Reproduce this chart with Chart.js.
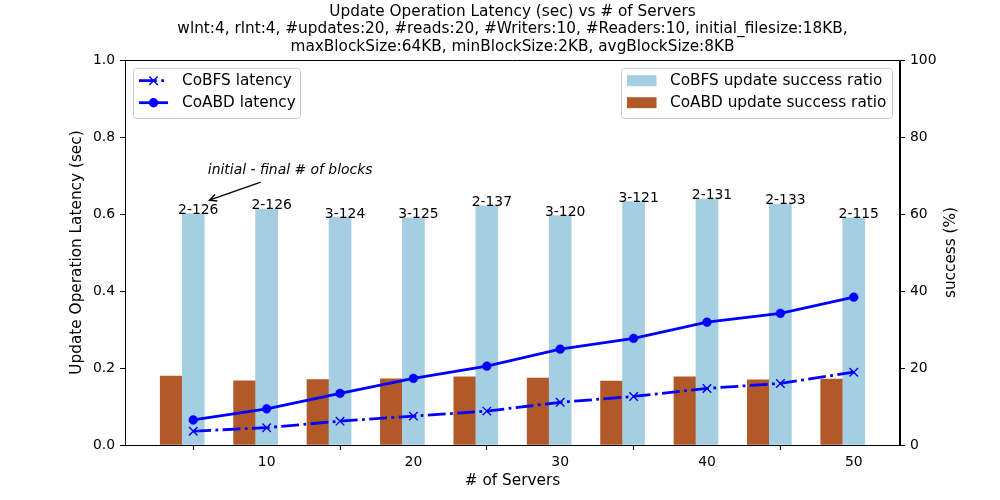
<!DOCTYPE html>
<html>
<head>
<meta charset="utf-8">
<script src="https://cdn.jsdelivr.net/npm/chart.js@4.4.1/dist/chart.umd.min.js"></script>
<style>
  html, body { margin: 0; padding: 0; background: #fff; }
  #wrap { width: 1000px; height: 500px; position: relative; }
</style>
</head>
<body>
<div id="wrap"><canvas id="c"></canvas></div>
<script>
// ---- data ----
const servers = [5, 10, 15, 20, 25, 30, 35, 40, 45, 50];
const coBFSLatency = [0.036, 0.045, 0.062, 0.075, 0.088, 0.111, 0.126, 0.147, 0.160, 0.189];
const coABDLatency = [0.065, 0.094, 0.134, 0.173, 0.205, 0.249, 0.277, 0.319, 0.342, 0.384];
const coBFSSuccess = [60.1, 61.3, 59.2, 59.0, 62.1, 59.6, 63.2, 63.9, 62.6, 59.0];
const coABDSuccess = [17.9, 16.7, 17.0, 17.2, 17.7, 17.4, 16.6, 17.7, 16.9, 17.1];
const blockLabels = ["2-126", "2-126", "3-124", "3-125", "2-137", "3-120", "3-121", "2-131", "2-133", "2-115"];
const xTicks = [10, 20, 30, 40, 50];
const yTicks = [0, 0.2, 0.4, 0.6, 0.8, 1.0];
const y1Ticks = [0, 20, 40, 60, 80, 100];
const barWidth = 1.5;
const titleLines = [
  "Update Operation Latency (sec) vs # of Servers",
  "wlnt:4, rlnt:4, #updates:20, #reads:20, #Writers:10, #Readers:10, initial_filesize:18KB,",
  "maxBlockSize:64KB, minBlockSize:2KB, avgBlockSize:8KB"
];
const annotationText = "initial - final # of blocks";
// annotation placement in data units: text centre, arrow tail, arrow tip
const annotationTextPos = { x: 11.6, y: 0.713 };
const annotationTail = { x: 9.6, y: 0.683 };
const annotationTip = { x: 6.1, y: 0.636 };

const BLUE = '#0000ff';
const LIGHTBLUE = '#a6cee3';
const BROWN = '#b15928';
const FONT = '"DejaVu Sans", sans-serif';
const FS = 13.9;      // ticks, bar labels, annotation
const FSL = 15.3;     // title, legend, axis titles
const LW = 2.78;
const DASHDOT = [17.8, 4.4, 2.8, 4.4];

function fixAxis(axis, values) { axis.ticks = values.map(v => ({ value: v })); }

const decorPlugin = {
  id: 'decor',
  afterDatasetsDraw(chart) {
    const ctx = chart.ctx;
    const ca = chart.chartArea;
    const xs = chart.scales.x, ys = chart.scales.y;
    ctx.save();
    // frame (top spine)
    ctx.strokeStyle = '#000';
    ctx.lineWidth = 1;
    ctx.beginPath();
    ctx.rect(ca.left + 0.5, ca.top + 0.5, ca.right - ca.left - 1, ca.bottom - ca.top);
    ctx.stroke();

    // labels above CoBFS bars
    const meta = chart.getDatasetMeta(2);
    ctx.fillStyle = '#000';
    ctx.font = FS + 'px ' + FONT;
    ctx.textAlign = 'center';
    ctx.textBaseline = 'alphabetic';
    meta.data.forEach((el, i) => {
      ctx.fillText(blockLabels[i], el.x + 5, el.y + 0.5);
    });

    // annotation
    ctx.font = 'italic ' + FS + 'px ' + FONT;
    ctx.textBaseline = 'middle';
    ctx.fillText(annotationText, xs.getPixelForValue(annotationTextPos.x), ys.getPixelForValue(annotationTextPos.y));
    const tx = xs.getPixelForValue(annotationTail.x), ty = ys.getPixelForValue(annotationTail.y);
    const hx = xs.getPixelForValue(annotationTip.x), hy = ys.getPixelForValue(annotationTip.y);
    ctx.strokeStyle = '#000';
    ctx.lineWidth = 1.4;
    ctx.beginPath();
    ctx.moveTo(tx, ty); ctx.lineTo(hx, hy);
    const ang = Math.atan2(hy - ty, hx - tx);
    const hl = 8, hw = 0.45;
    ctx.moveTo(hx - hl * Math.cos(ang - hw), hy - hl * Math.sin(ang - hw));
    ctx.lineTo(hx, hy);
    ctx.lineTo(hx - hl * Math.cos(ang + hw), hy - hl * Math.sin(ang + hw));
    ctx.stroke();

    // legends
    function box(x, y, w, h) {
      const r = 3;
      ctx.beginPath();
      ctx.moveTo(x + r, y);
      ctx.lineTo(x + w - r, y); ctx.quadraticCurveTo(x + w, y, x + w, y + r);
      ctx.lineTo(x + w, y + h - r); ctx.quadraticCurveTo(x + w, y + h, x + w - r, y + h);
      ctx.lineTo(x + r, y + h); ctx.quadraticCurveTo(x, y + h, x, y + h - r);
      ctx.lineTo(x, y + r); ctx.quadraticCurveTo(x, y, x + r, y);
      ctx.closePath();
      ctx.fillStyle = 'rgba(255,255,255,0.8)';
      ctx.fill();
      ctx.strokeStyle = '#cccccc';
      ctx.lineWidth = 1;
      ctx.stroke();
    }
    const L = ca.left;
    const T = ca.top;
    // left legend
    box(L + 8.5, T + 8.5, 167, 50);
    const rows = [T + 20.7, T + 42.7];
    const hx0 = L + 14, hx1 = L + 43, hmid = (hx0 + hx1) / 2;
    ctx.strokeStyle = BLUE; ctx.lineWidth = LW;
    ctx.setLineDash(DASHDOT);
    ctx.beginPath(); ctx.moveTo(hx0, rows[0]); ctx.lineTo(hx1, rows[0]); ctx.stroke();
    ctx.setLineDash([]);
    ctx.lineWidth = 1.4;
    const cr = 4.2;
    ctx.beginPath();
    ctx.moveTo(hmid - cr, rows[0] - cr); ctx.lineTo(hmid + cr, rows[0] + cr);
    ctx.moveTo(hmid - cr, rows[0] + cr); ctx.lineTo(hmid + cr, rows[0] - cr);
    ctx.stroke();
    ctx.lineWidth = LW;
    ctx.beginPath(); ctx.moveTo(hx0, rows[1]); ctx.lineTo(hx1, rows[1]); ctx.stroke();
    ctx.fillStyle = BLUE;
    ctx.beginPath(); ctx.arc(hmid, rows[1], 4.7, 0, Math.PI * 2); ctx.fill();
    ctx.fillStyle = '#000';
    ctx.font = FSL + 'px ' + FONT;
    ctx.textAlign = 'left';
    ctx.textBaseline = 'middle';
    ctx.fillText(chart.data.datasets[0].label, L + 57, rows[0]);
    ctx.fillText(chart.data.datasets[1].label, L + 57, rows[1]);

    // right legend
    const R = ca.right;
    box(R - 278.5, T + 8.5, 271, 50);
    ctx.fillStyle = LIGHTBLUE;
    ctx.fillRect(R - 273, rows[0] - 5.5, 29.5, 11);
    ctx.fillStyle = BROWN;
    ctx.fillRect(R - 273, rows[1] - 5.5, 29.5, 11);
    ctx.fillStyle = '#000';
    ctx.fillText(chart.data.datasets[2].label, R - 230, rows[0]);
    ctx.fillText(chart.data.datasets[3].label, R - 230, rows[1]);

    // titles
    ctx.textAlign = 'center';
    ctx.textBaseline = 'alphabetic';
    const cx = (ca.left + ca.right) / 2;
    titleLines.forEach((t, i) => ctx.fillText(t, cx, 15.5 + i * 17.5));

    // axis titles
    ctx.textBaseline = 'middle';
    ctx.fillText('# of Servers', cx, 481.5);
    const cy = (ca.top + ca.bottom) / 2;
    ctx.save();
    ctx.translate(77, cy); ctx.rotate(-Math.PI / 2);
    ctx.fillText('Update Operation Latency (sec)', 0, 0);
    ctx.restore();
    ctx.save();
    ctx.translate(951, cy); ctx.rotate(-Math.PI / 2);
    ctx.fillText('success (%)', 0, 0);
    ctx.restore();
    ctx.restore();
  }
};

const tickFont = { family: FONT, size: FS };

new Chart(document.getElementById('c'), {
  data: {
    datasets: [
      {
        type: 'line', label: 'CoBFS latency', yAxisID: 'y', order: 0,
        data: servers.map((s, i) => ({ x: s, y: coBFSLatency[i] })),
        borderColor: BLUE, backgroundColor: BLUE, borderWidth: LW, borderDash: DASHDOT,
        pointStyle: 'crossRot', pointRadius: 6, pointBorderWidth: 1.4, pointBorderColor: BLUE,
        fill: false, tension: 0
      },
      {
        type: 'line', label: 'CoABD latency', yAxisID: 'y', order: 0,
        data: servers.map((s, i) => ({ x: s, y: coABDLatency[i] })),
        borderColor: BLUE, backgroundColor: BLUE, borderWidth: LW,
        pointStyle: 'circle', pointRadius: 4.4, pointBorderWidth: 0.5, pointBorderColor: BLUE,
        fill: false, tension: 0
      },
      {
        type: 'bar', label: 'CoBFS update success ratio', yAxisID: 'y1', order: 1,
        data: servers.map((s, i) => ({ x: s, y: coBFSSuccess[i] })),
        backgroundColor: LIGHTBLUE, borderWidth: 0,
        grouped: false, barPercentage: 1, categoryPercentage: 1
      },
      {
        type: 'bar', label: 'CoABD update success ratio', yAxisID: 'y1', order: 1,
        data: servers.map((s, i) => ({ x: s - barWidth, y: coABDSuccess[i] })),
        backgroundColor: BROWN, borderWidth: 0,
        grouped: false, barPercentage: 1, categoryPercentage: 1
      }
    ]
  },
  options: {
    responsive: true,
    maintainAspectRatio: false,
    animation: false,
    devicePixelRatio: 1,
    layout: { padding: { top: 60, left: 0, right: 0, bottom: 0 } },
    plugins: { legend: { display: false }, title: { display: false }, tooltip: { enabled: false } },
    scales: {
      x: {
        type: 'linear', position: 'bottom', min: 0.35, max: 53.15, offset: false,
        grid: { display: true, drawOnChartArea: false, drawTicks: true, tickLength: 5, color: '#000', lineWidth: 1 },
        border: { display: true, color: '#000', width: 1 },
        ticks: { color: '#000', font: tickFont, padding: 4, maxRotation: 0, autoSkip: false },
        afterBuildTicks: a => fixAxis(a, xTicks),
        afterFit: s => { s.height = 55; }
      },
      y: {
        type: 'linear', position: 'left', min: 0, max: 1,
        grid: { display: true, drawOnChartArea: false, drawTicks: true, tickLength: 5, color: '#000', lineWidth: 1 },
        border: { display: true, color: '#000', width: 1 },
        ticks: { color: '#000', font: tickFont, padding: 5, callback: v => Number(v).toFixed(1) },
        afterBuildTicks: a => fixAxis(a, yTicks),
        afterFit: s => { s.width = 125; }
      },
      y1: {
        type: 'linear', position: 'right', min: 0, max: 100,
        grid: { display: true, drawOnChartArea: false, drawTicks: true, tickLength: 5, color: '#000', lineWidth: 1 },
        border: { display: true, color: '#000', width: 1 },
        ticks: { color: '#000', font: tickFont, padding: 5, callback: v => String(Math.round(v)) },
        afterBuildTicks: a => fixAxis(a, y1Ticks),
        afterFit: s => { s.width = 100; }
      }
    }
  },
  plugins: [decorPlugin]
});
</script>
</body>
</html>
